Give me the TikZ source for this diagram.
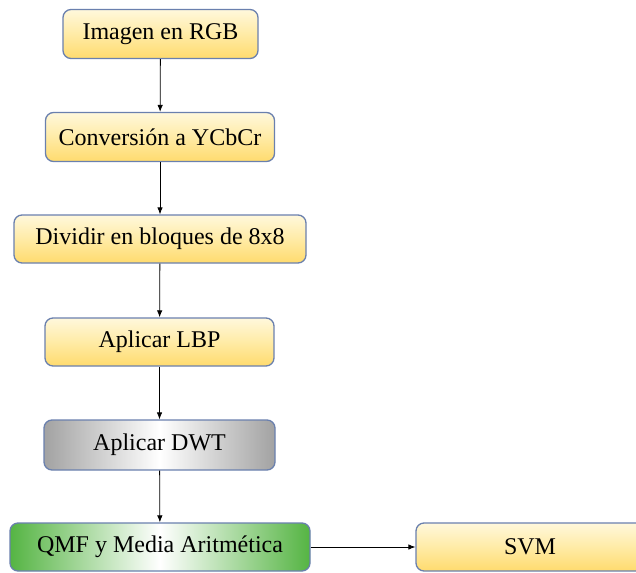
\documentclass[tikz,border=0pt]{standalone}
\usepackage{fontspec}
\setmainfont{Liberation Serif}
\usetikzlibrary{arrows.meta}
\definecolor{boxline}{HTML}{6A80AE}
\definecolor{yeltop}{HTML}{FFF8DC}
\definecolor{yelmid}{HTML}{FFEBA6}
\definecolor{yelbot}{HTML}{FFDB6E}
\definecolor{grayedge}{HTML}{A2A2A2}
\definecolor{greenedge}{HTML}{55B443}
\tikzset{
  procbox/.style={draw=boxline, line width=1.3pt, rounded corners=8pt,
    inner sep=0pt, font=\fontsize{24}{28}\selectfont, text=black},
  yellowbox/.style={procbox, top color=yeltop, bottom color=yelbot, middle color=yelmid},
  graybox/.style={procbox, left color=grayedge, right color=grayedge, middle color=white},
  greenbox/.style={procbox, left color=greenedge, right color=greenedge, middle color=white},
  flow/.style={draw=black, line width=0.8pt, -{Latex[length=7pt,width=5.5pt]}}
}
\begin{document}
\begin{tikzpicture}[x=1pt,y=-1pt]
  \useasboundingbox (0,0) rectangle (636,572);
  \node[yellowbox, minimum width=195pt, minimum height=49pt] (rgb) at (160.5,34) {Imagen en RGB};
  \node[yellowbox, minimum width=229pt, minimum height=49pt] (ycc) at (160,137) {Conversión a YCbCr};
  \node[yellowbox, minimum width=292pt, minimum height=48pt] (div) at (160,239) {Dividir en bloques de 8x8};
  \node[yellowbox, minimum width=229pt, minimum height=48pt] (lbp) at (159.5,342) {Aplicar LBP};
  \node[graybox, minimum width=231pt, minimum height=50pt] (dwt) at (159.5,445) {Aplicar DWT};
  \node[greenbox, minimum width=300pt, minimum height=48pt] (qmf) at (160,547) {QMF y Media Aritmética};
  \node[yellowbox, minimum width=228pt, minimum height=48pt] (svm) at (530,547) {SVM};
  \draw[flow] (rgb) -- (ycc);
  \draw[flow] (ycc) -- (div);
  \draw[flow] (div) -- (lbp);
  \draw[flow] (lbp) -- (dwt);
  \draw[flow] (dwt) -- (qmf);
  \draw[flow] (qmf) -- (svm);
\end{tikzpicture}
\end{document}
